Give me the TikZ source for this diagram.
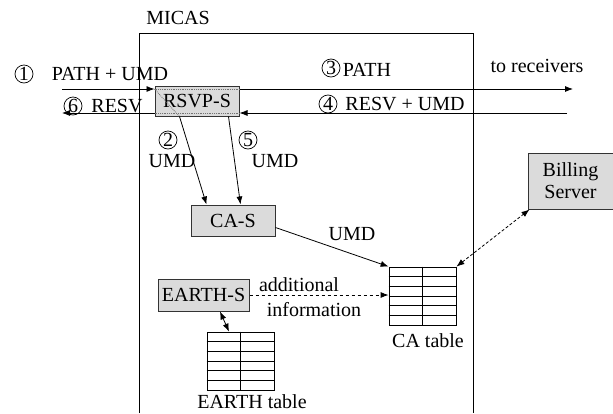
\documentclass[tikz,border=0pt]{standalone}
\usepackage{fontspec}
\setmainfont{Liberation Serif}
\usetikzlibrary{arrows.meta,positioning,calc}

\tikzset{
  >={Latex[length=8pt,width=6pt]},
  box/.style={draw=black!80,line width=1pt,fill=black!14,inner sep=0pt},
  num/.style={draw,circle,line width=0.7pt,inner sep=0pt,minimum size=18pt},
  tbl/.style={draw,line width=0.8pt,inner sep=0pt,minimum width=67pt,minimum height=58pt},
  link/.style={line width=0.8pt},
  through/.style={densely dotted,line width=0.8pt,black!55}
}

\begin{document}
\begin{tikzpicture}[x=1pt,y=-1pt,font=\fontsize{20}{22}\selectfont]
\useasboundingbox (0,0) rectangle (613,413);

% MICAS frame (open at the bottom)
\draw[line width=0.8pt] (139,413) |- (473,33) -- (473,413);
\node (micas) at (178,18) {MICAS};

% servers
\node[box,minimum width=84pt,minimum height=30pt] (rsvp) at (197,101) {RSVP-S};
\node[box,minimum width=84pt,minimum height=31pt] (cas) at (233,220.5) {CA-S};
\node[box,minimum width=91pt,minimum height=32pt] (earth) at (203.5,295) {EARTH-S};
\node[box,minimum width=85pt,minimum height=56pt,align=center] (billing) at (570.5,181) {Billing\\Server};

% tables
\node[tbl] (catab) at (422.5,296) {};
\node[tbl] (earthtab) at (240.5,361) {};
\foreach \t in {catab,earthtab} {
  \foreach \i in {1,...,5}
    \draw[line width=0.8pt] ($(\t.north west)!\i/6!(\t.south west)$) -- ($(\t.north east)!\i/6!(\t.south east)$);
  \draw[line width=0.8pt] (\t.north) -- (\t.south);
}
\node (calbl) at (428,341) {CA table};
\node (earthlbl) at (252,402) {EARTH table};

% signalling ends
\coordinate (pathin) at (62,89);
\coordinate (pathout) at (573,89);
\coordinate (resvin) at (567,113);
\coordinate (resvout) at (62,113);

% PATH and RESV messages
\draw[link,->] (pathin) -- (pathin -| rsvp.west);
\draw[link,->] (pathin -| rsvp.east) -- (pathout);
\draw[link,->] (resvin) -- (resvin -| rsvp.east);
\draw[link,->] (resvin -| rsvp.west) -- (resvout);
\draw[through] (pathin -| rsvp.west) -- (pathin -| rsvp.east);
\draw[through] (resvin -| rsvp.west) -- (resvin -| rsvp.east);
\draw[through] (pathin -| rsvp.west) -- ([xshift=25pt]rsvp.south west);

% UMD towards CA-S
\draw[link,->] ([xshift=25pt]rsvp.south west) -- ([xshift=16pt]cas.north west);
\draw[link,->] ([xshift=-11pt]rsvp.south east) -- ([xshift=-35pt]cas.north east);
\draw[link,->] ([yshift=-7pt]cas.east) -- (catab.north west);
\draw[link,dashed,->] (earth.east) -- (earth.east -| catab.west);
\draw[link,<->] ([xshift=16.5pt]earth.south) -- ([xshift=-11.5pt]earthtab.north);
\draw[link,densely dashed,<->] (catab.north east) -- ([xshift=2pt]billing.south west);

% numbered labels
\node[num] (n1) at (24,74) {1};
\node (l1) at (110,74) {PATH + UMD};
\node[num] (n6) at (73,106) {6};
\node (l6) at (117,106) {RESV};
\node[num] (n3) at (331,68) {3};
\node (l3) at (367,70) {PATH};
\node[num] (n4) at (328,104) {4};
\node (l4) at (405,104) {RESV + UMD};
\node (recv) at (537,66) {to receivers};
\node[num] (n2) at (168,140) {2};
\node (u2) at (172,161) {UMD};
\node[num] (n5) at (248,140) {5};
\node (u5) at (275,161) {UMD};
\node (u3) at (352,234) {UMD};
\node (add) at (299,285) {additional};
\node (info) at (314,310) {information};
\end{tikzpicture}
\end{document}
